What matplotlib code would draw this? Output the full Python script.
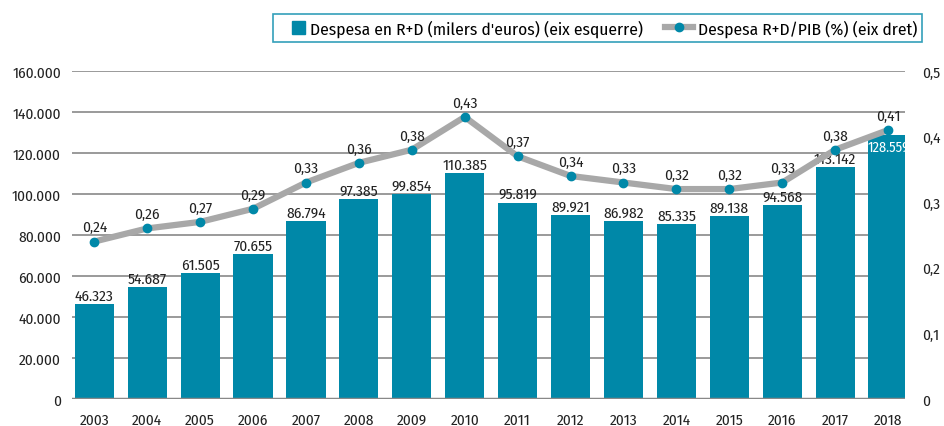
import matplotlib
matplotlib.use("Agg")
import matplotlib.pyplot as plt
import numpy as np
from matplotlib.lines import Line2D
from matplotlib.patches import Patch
from matplotlib import font_manager

names = {f.name for f in font_manager.fontManager.ttflist}
prefs = ['Fira Sans Condensed', 'Roboto Condensed', 'Barlow Semi Condensed',
         'Asap Condensed', 'Roboto']
main = next(n for n in prefs if n in names)
plt.rcParams['font.family'] = [main, 'DejaVu Sans']

years = ['2003', '2004', '2005', '2006', '2007', '2008', '2009', '2010',
         '2011', '2012', '2013', '2014', '2015', '2016', '2017', '2018']
spend = [46323, 54687, 61505, 70655, 86794, 97385, 99854, 110385,
         95819, 89921, 86982, 85335, 89138, 94568, 113142, 128559]
ratio = [0.24, 0.26, 0.27, 0.29, 0.33, 0.36, 0.38, 0.43,
         0.37, 0.34, 0.33, 0.32, 0.32, 0.33, 0.38, 0.41]
left_ticks = [0, 20000, 40000, 60000, 80000, 100000, 120000, 140000, 160000]
right_ticks = [0, 0.1, 0.2, 0.3, 0.4, 0.5]
right_marks = [0.1, 0.2, 0.3, 0.4]

BAR = '#0088A8'
LINE = '#A8A8A8'
GRID = '#9A9A9A'
TXT = '#222222'
FS = 11

def fmt_thousands(v):
    return f"{v:,}".replace(',', '.')

def fmt_dec(v):
    s = f"{v:.2f}".rstrip('0').rstrip('.') if v != 0 else '0'
    return s.replace('.', ',')

fig = plt.figure(figsize=(9.44, 4.27), dpi=100)
ax = fig.add_axes([0.0763, 0.0632, 0.8824, 0.7682])
x = np.arange(len(years))

for t in left_ticks[1:]:
    ax.axhline(t, color=GRID, lw=1.4, zorder=0)
ax.axhline(0, color='#888888', lw=2.5, zorder=3)

bars = ax.bar(x, spend, width=0.74, color=BAR, zorder=2)
for i, (xi, v) in enumerate(zip(x, spend)):
    if i == len(spend) - 1:
        ax.text(xi + 0.02, v - 2300, fmt_thousands(v), ha='center', va='top',
                color='white', fontsize=10.3, zorder=5)
    else:
        ax.text(xi, v + 600, fmt_thousands(v), ha='center', va='bottom',
                color=TXT, fontsize=FS, zorder=5)

ax.set_xlim(-0.42, len(years) - 1 + 0.32)
ax.set_ylim(0, 160000)
ax.set_xticks(x)
ax.set_xticklabels(years, fontsize=FS, color=TXT)
ax.set_yticks(left_ticks)
ax.set_yticklabels([fmt_thousands(t) for t in left_ticks], fontsize=FS, color=TXT)
ax.tick_params(axis='both', length=0, pad=8)
ax.tick_params(axis='x', pad=10)
for s in ax.spines.values():
    s.set_visible(False)

ax2 = ax.twinx()
ax2.set_ylim(0, 0.5)
ax2.plot(x, ratio, color=LINE, lw=4.5, zorder=3, solid_joinstyle='round',
         solid_capstyle='round')
ax2.plot(x, ratio, 'o', color=BAR, ms=6, zorder=4)
for xi, v in zip(x, ratio):
    ax2.text(xi, v + 0.011, fmt_dec(v), ha='center', va='bottom',
             color=TXT, fontsize=FS, zorder=5)
for s in ax2.spines.values():
    s.set_visible(False)
ax2.spines['right'].set_position(('outward', 5.5))
ax2.set_yticks(right_ticks)
ax2.set_yticklabels([fmt_dec(t) for t in right_ticks], fontsize=FS, color=TXT)
ax2.tick_params(axis='y', which='major', right=True, length=0, pad=7)
ax2.set_yticks(right_marks, minor=True)
ax2.tick_params(axis='y', which='minor', right=True, left=False,
                direction='out', length=5, width=1.3, color='#555555')
fig.canvas.draw()

handles = [Patch(facecolor=BAR, edgecolor=BAR),
           Line2D([0], [0], color=LINE, lw=4.5, marker='o', markersize=6,
                  markerfacecolor=BAR, markeredgecolor=BAR)]
labels = ["Despesa en R+D (milers d'euros) (eix esquerre)",
          "Despesa R+D/PIB (%) (eix dret)"]
LFS = 12.5
HL = 1.6
leg = fig.legend(handles, labels, loc='upper right', bbox_to_anchor=(0.986, 0.985),
                 ncol=2, fontsize=LFS, frameon=True, fancybox=False,
                 handlelength=HL, handletextpad=0.25, columnspacing=1.3,
                 borderpad=0.3)
leg.get_frame().set_edgecolor(BAR)
leg.get_frame().set_linewidth(1.2)
sq = leg.legend_handles[0]
side = 9.5
sq.set_width(side)
sq.set_height(side)
sq.set_x(HL * LFS - side)
sq.set_y((0.7 * LFS - side) / 2)
fig.savefig('out.png', dpi=100)
